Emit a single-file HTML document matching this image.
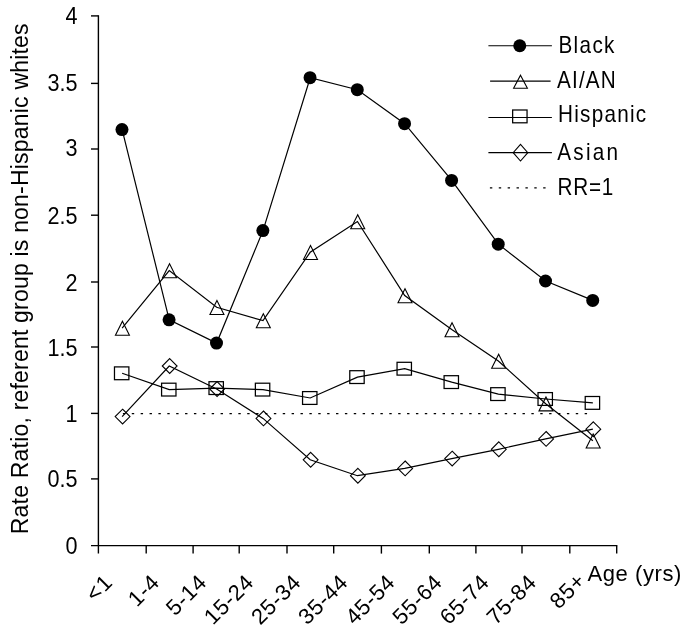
<!DOCTYPE html>
<html><head><meta charset="utf-8"><title>Rate Ratio by Age</title>
<style>html,body{margin:0;padding:0;background:#fff}svg{display:block;filter:grayscale(1)}</style></head>
<body>
<svg width="685" height="632" viewBox="0 0 685 632" font-family="'Liberation Sans', sans-serif" font-size="23" fill="#000">
<rect width="685" height="632" fill="#fff"/>
<g stroke="#000" stroke-width="1.4" fill="none">
<path d="M98.4 15.20V553.6"/>
<path d="M91.0 545.6H617.30"/>
<path d="M91.00 478.90H98.4"/>
<path d="M91.00 413.40H98.4"/>
<path d="M91.00 347.00H98.4"/>
<path d="M91.00 282.00H98.4"/>
<path d="M91.00 215.20H98.4"/>
<path d="M91.00 149.00H98.4"/>
<path d="M91.00 83.40H98.4"/>
<path d="M91.00 15.90H98.4"/>
<path d="M146.20 545.6V553.6"/>
<path d="M193.10 545.6V553.6"/>
<path d="M239.20 545.6V553.6"/>
<path d="M287.00 545.6V553.6"/>
<path d="M333.70 545.6V553.6"/>
<path d="M381.40 545.6V553.6"/>
<path d="M429.30 545.6V553.6"/>
<path d="M475.90 545.6V553.6"/>
<path d="M522.00 545.6V553.6"/>
<path d="M569.80 545.6V553.6"/>
<path d="M616.70 545.6V553.6"/>
</g>
<path d="M122.9 413.6H592.87" stroke="#000" stroke-width="1.3" stroke-dasharray="2.4 6.48" fill="none"/>
<text transform="translate(77.5 553.8) scale(0.94 1)" text-anchor="end">0</text>
<text transform="translate(77.5 487.2) scale(0.94 1)" text-anchor="end">0.5</text>
<text transform="translate(77.5 422.0) scale(0.94 1)" text-anchor="end">1</text>
<text transform="translate(77.5 355.8) scale(0.94 1)" text-anchor="end">1.5</text>
<text transform="translate(77.5 290.7) scale(0.94 1)" text-anchor="end">2</text>
<text transform="translate(77.5 223.8) scale(0.94 1)" text-anchor="end">2.5</text>
<text transform="translate(77.5 156.3) scale(0.94 1)" text-anchor="end">3</text>
<text transform="translate(77.5 91.1) scale(0.94 1)" text-anchor="end">3.5</text>
<text transform="translate(77.5 23.9) scale(0.94 1)" text-anchor="end">4</text>
<text transform="translate(28.3 534.2) rotate(-90)" font-size="23" textLength="510.8" lengthAdjust="spacing">Rate Ratio, referent group is non-Hispanic whites</text>
<text transform="translate(94.81 602.75) rotate(-45)" font-size="22" textLength="26.23" lengthAdjust="spacing">&lt;1</text>
<text transform="translate(136.95 607.71) rotate(-45)" font-size="22" textLength="33.25" lengthAdjust="spacing">1-4</text>
<text transform="translate(175.01 616.76) rotate(-45)" font-size="22" textLength="46.05" lengthAdjust="spacing">5-14</text>
<text transform="translate(213.08 625.80) rotate(-45)" font-size="22" textLength="58.83" lengthAdjust="spacing">15-24</text>
<text transform="translate(260.19 625.80) rotate(-45)" font-size="22" textLength="58.83" lengthAdjust="spacing">25-34</text>
<text transform="translate(307.30 625.80) rotate(-45)" font-size="22" textLength="58.83" lengthAdjust="spacing">35-44</text>
<text transform="translate(354.41 625.80) rotate(-45)" font-size="22" textLength="58.83" lengthAdjust="spacing">45-54</text>
<text transform="translate(401.52 625.80) rotate(-45)" font-size="22" textLength="58.83" lengthAdjust="spacing">55-64</text>
<text transform="translate(448.63 625.80) rotate(-45)" font-size="22" textLength="58.83" lengthAdjust="spacing">65-74</text>
<text transform="translate(495.74 625.80) rotate(-45)" font-size="22" textLength="58.83" lengthAdjust="spacing">75-84</text>
<text transform="translate(558.65 609.99) rotate(-45)" font-size="22" textLength="39.02" lengthAdjust="spacing">85+</text>
<text x="587.5" y="581.0" font-size="22" textLength="93.85" lengthAdjust="spacing">Age (yrs)</text>
<path d="M122.13 129.60 L169.23 319.80 L216.64 343.10 L263.02 230.60 L310.20 77.70 L357.43 89.70 L404.70 123.70 L451.73 180.40 L498.36 244.20 L545.67 281.00 L592.87 300.40" fill="none" stroke="#000" stroke-width="1.2"/>
<circle cx="121.98" cy="129.60" r="6.5" fill="#000" stroke="none"/>
<circle cx="169.08" cy="319.80" r="6.5" fill="#000" stroke="none"/>
<circle cx="216.49" cy="343.10" r="6.5" fill="#000" stroke="none"/>
<circle cx="262.87" cy="230.60" r="6.5" fill="#000" stroke="none"/>
<circle cx="310.05" cy="77.70" r="6.5" fill="#000" stroke="none"/>
<circle cx="357.28" cy="89.70" r="6.5" fill="#000" stroke="none"/>
<circle cx="404.55" cy="123.70" r="6.5" fill="#000" stroke="none"/>
<circle cx="451.58" cy="180.40" r="6.5" fill="#000" stroke="none"/>
<circle cx="498.21" cy="244.20" r="6.5" fill="#000" stroke="none"/>
<circle cx="545.52" cy="281.00" r="6.5" fill="#000" stroke="none"/>
<circle cx="592.72" cy="300.40" r="6.5" fill="#000" stroke="none"/>
<path d="M122.13 328.10 L169.23 270.50 L216.64 307.30 L263.02 320.60 L310.20 252.30 L357.43 221.50 L404.70 295.50 L451.73 329.50 L498.36 361.00 L545.67 403.70 L592.87 440.80" fill="none" stroke="#000" stroke-width="1.2"/>
<path d="M122.43 321.30L129.43 335.30H115.43Z" fill="none" stroke="#000" stroke-width="1.1"/>
<path d="M169.53 263.70L176.53 277.70H162.53Z" fill="none" stroke="#000" stroke-width="1.1"/>
<path d="M216.94 300.50L223.94 314.50H209.94Z" fill="none" stroke="#000" stroke-width="1.1"/>
<path d="M263.32 313.80L270.32 327.80H256.32Z" fill="none" stroke="#000" stroke-width="1.1"/>
<path d="M310.50 245.50L317.50 259.50H303.50Z" fill="none" stroke="#000" stroke-width="1.1"/>
<path d="M357.73 214.70L364.73 228.70H350.73Z" fill="none" stroke="#000" stroke-width="1.1"/>
<path d="M405.00 288.70L412.00 302.70H398.00Z" fill="none" stroke="#000" stroke-width="1.1"/>
<path d="M452.03 322.70L459.03 336.70H445.03Z" fill="none" stroke="#000" stroke-width="1.1"/>
<path d="M498.66 354.20L505.66 368.20H491.66Z" fill="none" stroke="#000" stroke-width="1.1"/>
<path d="M545.97 396.90L552.97 410.90H538.97Z" fill="none" stroke="#000" stroke-width="1.1"/>
<path d="M593.17 434.00L600.17 448.00H586.17Z" fill="none" stroke="#000" stroke-width="1.1"/>
<path d="M122.13 373.30 L169.23 389.60 L216.64 388.10 L263.02 389.60 L310.20 398.00 L357.43 377.10 L404.70 368.70 L451.73 382.10 L498.36 394.10 L545.67 399.00 L592.87 402.90" fill="none" stroke="#000" stroke-width="1.2"/>
<rect x="114.48" y="366.90" width="14.4" height="12.8" fill="none" stroke="#000" stroke-width="1.25"/>
<rect x="161.58" y="383.20" width="14.4" height="12.8" fill="none" stroke="#000" stroke-width="1.25"/>
<rect x="208.99" y="381.70" width="14.4" height="12.8" fill="none" stroke="#000" stroke-width="1.25"/>
<rect x="255.37" y="383.20" width="14.4" height="12.8" fill="none" stroke="#000" stroke-width="1.25"/>
<rect x="302.55" y="391.60" width="14.4" height="12.8" fill="none" stroke="#000" stroke-width="1.25"/>
<rect x="349.78" y="370.70" width="14.4" height="12.8" fill="none" stroke="#000" stroke-width="1.25"/>
<rect x="397.05" y="362.30" width="14.4" height="12.8" fill="none" stroke="#000" stroke-width="1.25"/>
<rect x="444.08" y="375.70" width="14.4" height="12.8" fill="none" stroke="#000" stroke-width="1.25"/>
<rect x="490.71" y="387.70" width="14.4" height="12.8" fill="none" stroke="#000" stroke-width="1.25"/>
<rect x="538.02" y="392.60" width="14.4" height="12.8" fill="none" stroke="#000" stroke-width="1.25"/>
<rect x="585.22" y="396.50" width="14.4" height="12.8" fill="none" stroke="#000" stroke-width="1.25"/>
<path d="M122.13 416.60 L169.23 366.00 L216.64 389.00 L263.02 418.40 L310.20 459.80 L357.43 475.70 L404.70 468.40 L451.73 458.60 L498.36 449.30 L545.67 438.90 L592.87 429.20" fill="none" stroke="#000" stroke-width="1.2"/>
<path d="M122.58 409.20L129.98 416.60L122.58 424.00L115.18 416.60Z" fill="none" stroke="#000" stroke-width="1.1"/>
<path d="M169.68 358.60L177.08 366.00L169.68 373.40L162.28 366.00Z" fill="none" stroke="#000" stroke-width="1.1"/>
<path d="M217.09 381.60L224.49 389.00L217.09 396.40L209.69 389.00Z" fill="none" stroke="#000" stroke-width="1.1"/>
<path d="M263.47 411.00L270.87 418.40L263.47 425.80L256.07 418.40Z" fill="none" stroke="#000" stroke-width="1.1"/>
<path d="M310.65 452.40L318.05 459.80L310.65 467.20L303.25 459.80Z" fill="none" stroke="#000" stroke-width="1.1"/>
<path d="M357.88 468.30L365.27 475.70L357.88 483.10L350.48 475.70Z" fill="none" stroke="#000" stroke-width="1.1"/>
<path d="M405.15 461.00L412.55 468.40L405.15 475.80L397.75 468.40Z" fill="none" stroke="#000" stroke-width="1.1"/>
<path d="M452.18 451.20L459.58 458.60L452.18 466.00L444.78 458.60Z" fill="none" stroke="#000" stroke-width="1.1"/>
<path d="M498.81 441.90L506.21 449.30L498.81 456.70L491.41 449.30Z" fill="none" stroke="#000" stroke-width="1.1"/>
<path d="M546.12 431.50L553.52 438.90L546.12 446.30L538.72 438.90Z" fill="none" stroke="#000" stroke-width="1.1"/>
<path d="M593.32 421.80L600.72 429.20L593.32 436.60L585.92 429.20Z" fill="none" stroke="#000" stroke-width="1.1"/>
<path d="M488.4 45.75H551.9" stroke="#000" stroke-width="1.2"/>
<circle cx="519.75" cy="45.76" r="6.5" fill="#000" stroke="none"/>
<text transform="translate(558.5 52.85) scale(0.9 1)" textLength="62.11" lengthAdjust="spacing">Black</text>
<path d="M490.1 81.05H550.6" stroke="#000" stroke-width="1.2"/>
<path d="M520.50 75.20L527.40 88.30H513.60Z" fill="none" stroke="#000" stroke-width="1.1"/>
<text transform="translate(557.1 88.2) scale(0.9 1)" textLength="65.22" lengthAdjust="spacing">AI/AN</text>
<path d="M488.4 117.5H551.9" stroke="#000" stroke-width="1.2"/>
<rect x="512.65" y="110.00" width="14.4" height="12.8" fill="none" stroke="#000" stroke-width="1.25"/>
<text transform="translate(558.0 122.4) scale(0.9 1)" textLength="98.02" lengthAdjust="spacing">Hispanic</text>
<path d="M488.4 152.7H551.9" stroke="#000" stroke-width="1.2"/>
<path d="M520.50 144.40L527.80 152.70L520.50 161.00L513.20 152.70Z" fill="none" stroke="#000" stroke-width="1.1"/>
<text transform="translate(557.3 159.6) scale(0.9 1)" textLength="67.50" lengthAdjust="spacing">Asian</text>
<path d="M489.9 187.9H546" stroke="#000" stroke-width="1.3" stroke-dasharray="2.4 6.48"/>
<text transform="translate(557.6 194.8) scale(0.9 1)" textLength="61.83" lengthAdjust="spacing">RR=1</text>
</svg>
</body></html>
